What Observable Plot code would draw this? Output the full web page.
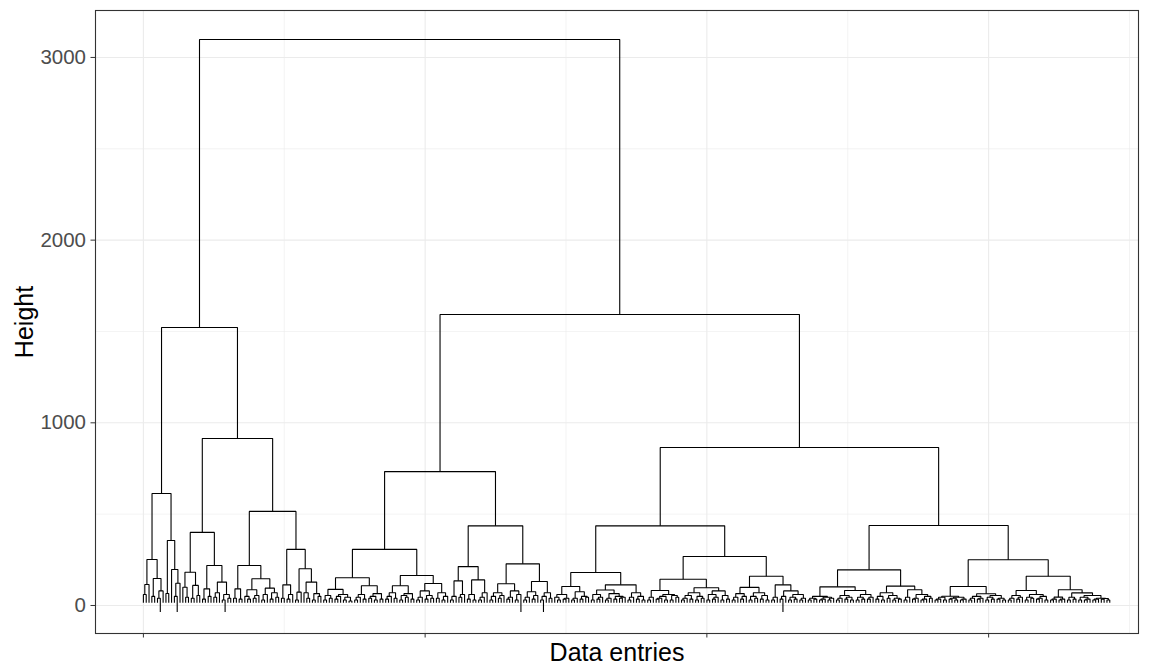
<!DOCTYPE html>
<html><head><meta charset="utf-8">
<script src="https://cdn.jsdelivr.net/npm/d3@7"></script>
<script src="https://cdn.jsdelivr.net/npm/@observablehq/plot@0.6"></script>
<style>
body{margin:0;background:#fff;}
#chart{width:1152px;height:664px;}
svg{font-family:"Liberation Sans",Arial,Helvetica,sans-serif;}
</style></head><body><div id="chart"></div>
<script>
// Dendrogram written as nested merges: (left,right)height ; leaves "o" (normal) / "x" (long hanging leaf)
const A1a  = "(((o,o)60,o)115,((o,o)50,((o,x)40,o)80)148)252";
const A1b  = "((o,o)66,(o,((o,x)50,o)122)197)356";
const A2a  = "(((o,(o,o)45)100,((o,o)40,(o,o)55)110)182,(((o,o)35,(o,o)50)91,(((o,o)45,o)70,((o,x)30,(o,o)40)60)128)219)400";
const A2bL = "(((o,o)40,(o,o)35)91,(((o,(o,o)35)50,((o,o)40,o)55)86,(((o,o)30,o)60,((o,o)35,(o,o)45)70)95)146)219";
const A2bR = "(((o,o)40,((o,o)35,o)60)113,(((o,o)30,o)73,((o,(o,o)40)70,((o,o)30,(o,o)50)65)128)201)307";
const B1aL = "((((o,o)30,(o,o)40)55,(((o,o)35,o)50,((o,o)30,(o,o)25)45)60)88,((((o,o)30,o)45,(o,o)35)60,(((o,o)40,(o,o)30)50,(o,o)35)65)108)152";
const B1aR = "(((((o,o)35,o)50,(o,o)40)70,(((o,o)30,(o,o)45)55,(o,o)35)65)108,((((o,o)30,o)45,((o,o)35,(o,o)40)55)80,((o,o)40,((o,o)30,o)50)70)120)164";
const B1bL = "((((o,o)30,o)50,((o,o)45,o)60)135,(((o,o)35,(o,o)30)60,(((o,o)30,o)45,o)70)140)213";
const B1bR = "(((((o,o)30,o)50,((o,o)40,o)55)70,(((o,o)35,o)45,((o,o)30,x)60)80)119,((((o,o)30,o)45,((o,o)35,o)55)75,(((o,x)30,o)50,(o,o)40)70)131)228";
const B2aL = "((((o,(o,o)30)45,((o,o)35,o)40)60,(((o,o)30,o)40,((o,o)35,(o,o)45)50)75)104,((((o,o)30,((o,o)35,o)45)60,(((o,o)30,o)40,((o,o)35,((o,o)40,o)45)50)65)85,(((o,o)30,o)45,((o,o)35,(o,o)30)50)70)113)181";
const B2aRL = "(((o,o)30,o)45,((((o,o)35,o)40,(o,o)30)50,((o,o)30,(o,o)45)55)60)82";
const B2aRLR = "(((((o,o)30,o)40,(o,o)35)55,((o,o)30,(o,o)40)50)70,(((o,o)30,((o,o)35,o)45)60,((o,o)30,(o,o)35)55)80)97";
const B2aRR = "(((((o,o)30,o)45,((o,o)35,o)50)65,(((o,o)30,(o,o)40)50,((o,o)35,(o,o)30)55)70)99,(((o,o)30,o)45,(((o,x)35,o)50,(((o,o)30,(o,o)35)45,((o,o)30,o)40)60)80)113)160";
const B2bLL = "((((o,o)30,(o,o)35)40,(((o,o)30,o)35,((o,o)30,o)40)45)50,((((o,o)30,o)40,((o,o)35,(o,o)30)45)55,(((o,o)30,(o,o)35)45,((o,o)35,o)45)60)82)102";
const B2bLR = "((((o,o)35,(o,o)30)50,((o,o)40,((o,o)30,(o,o)35)40)55)70,(((o,o)30,o)45,(((o,o)35,o)40,(((o,o)30,o)35,(o,o)40)50)60)86)106";
const B2bRL = "(((((o,o)30,o)35,(o,o)30)45,(((o,o)35,(o,o)30)40,((o,o)30,o)35)45)51,((((o,o)30,o)40,((o,o)35,o)40)50,(((o,o)30,(o,o)35)45,((o,o)35,(o,o)30)40)55)64)104";
const B2bRR = "(((((o,o)30,o)40,((o,o)35,o)45)55,(((o,o)30,(o,o)40)45,(((o,o)35,o)40,(o,o)30)50)60)82,((((o,o)30,o)35,((o,o)30,o)35)46,(((o,o)30,(o,o)35)45,(((o,o)30,((o,o)30,o)35)45,(((o,o)30,o)35,((o,o)35,(o,o)30)38)40)55)69)86)160";

// upper merge heights
const upper = {A1:613, A2b:515, A2:914, A:1522, B1a:307, B1b:436, B1:733, B2aRL:144, B2aR:268, B2a:436, B2bL:195, B2bR:250, B2b:438, B2:865, B:1593, root:3098};

const yTicks = [0, 1000, 2000, 3000];
const yMinor = [500, 1500, 2500];
const xTicks = [0, 100, 200, 300];
const xMinor = [50, 150, 250, 350];
const leafEnd = {o: 15, x: -35};

const u = upper;
const A = `((${A1a},${A1b})${u.A1},(${A2a},(${A2bL},${A2bR})${u.A2b})${u.A2})${u.A}`;
const B1 = `((${B1aL},${B1aR})${u.B1a},(${B1bL},${B1bR})${u.B1b})${u.B1}`;
const B2a = `(${B2aL},((${B2aRL},${B2aRLR})${u.B2aRL},${B2aRR})${u.B2aR})${u.B2a}`;
const B2b = `((${B2bLL},${B2bLR})${u.B2bL},(${B2bRL},${B2bRR})${u.B2bR})${u.B2b}`;
const treeStr = `(${A},(${B1},(${B2a},${B2b})${u.B2})${u.B})${u.root}`;

function parse(str) {
  str = str.replace(/\s+/g, "");
  let i = 0;
  function node() {
    if (str[i] === "(") {
      i++; const l = node(); i++; const r = node(); i++;
      const j = i; while (i < str.length && /[0-9.\-]/.test(str[i])) i++;
      return {h: +str.slice(j, i), children: [l, r]};
    }
    const c = str[i++];
    return {leaf: true, h: leafEnd[c]};
  }
  return node();
}

const tree = parse(treeStr);
const rows = [];
let leafIndex = 0, nodeId = 0;
(function layout(n) {
  if (n.leaf) { n.x = leafIndex++; return; }
  n.children.forEach(layout);
  const [l, r] = n.children;
  n.x = (l.x + r.x) / 2;
  const id = nodeId++;
  rows.push({id, x: l.x, y: l.h}, {id, x: l.x, y: n.h}, {id, x: r.x, y: n.h}, {id, x: r.x, y: r.h});
})(tree);

const font = '"Liberation Sans",Arial,Helvetica,sans-serif';
const chart = Plot.plot({
  width: 1152, height: 664,
  marginLeft: 95, marginRight: 14, marginTop: 10, marginBottom: 31,
  style: {fontFamily: font, background: "#fff"},
  x: {domain: [-17, 353.2], axis: null},
  y: {domain: [-153.3, 3257], axis: null},
  marks: [
    Plot.gridY(yMinor, {stroke: "#EBEBEB", strokeOpacity: 1, strokeWidth: 0.6}),
    Plot.gridX(xMinor, {stroke: "#EBEBEB", strokeOpacity: 1, strokeWidth: 0.6}),
    Plot.gridY(yTicks, {stroke: "#EBEBEB", strokeOpacity: 1, strokeWidth: 1.1}),
    Plot.gridX(xTicks, {stroke: "#EBEBEB", strokeOpacity: 1, strokeWidth: 1.1}),
    Plot.line(rows, {x: "x", y: "y", z: "id", stroke: "#000", strokeWidth: 1.1, strokeLinejoin: "miter", strokeLinecap: "butt"}),
    Plot.axisY({ticks: yTicks, tickSize: 4.5, tickPadding: 5, tickFormat: d => String(d), fontSize: 20.5, fill: "#4D4D4D", stroke: "#333333", label: null}),
    Plot.axisX({ticks: xTicks, tickSize: 4.5, tickFormat: () => "", stroke: "#333333", label: null}),
    Plot.frame({stroke: "#333333", strokeWidth: 1.1}),
    Plot.text(["Data entries"], {frameAnchor: "bottom", dy: 19, textAnchor: "middle", lineAnchor: "middle", fontSize: 25, fill: "#000"}),
    Plot.text(["Height"], {frameAnchor: "left", dx: -71, rotate: -90, textAnchor: "middle", lineAnchor: "middle", fontSize: 25, fill: "#000"})
  ]
});
document.getElementById("chart").appendChild(chart);
</script>
</body></html>
